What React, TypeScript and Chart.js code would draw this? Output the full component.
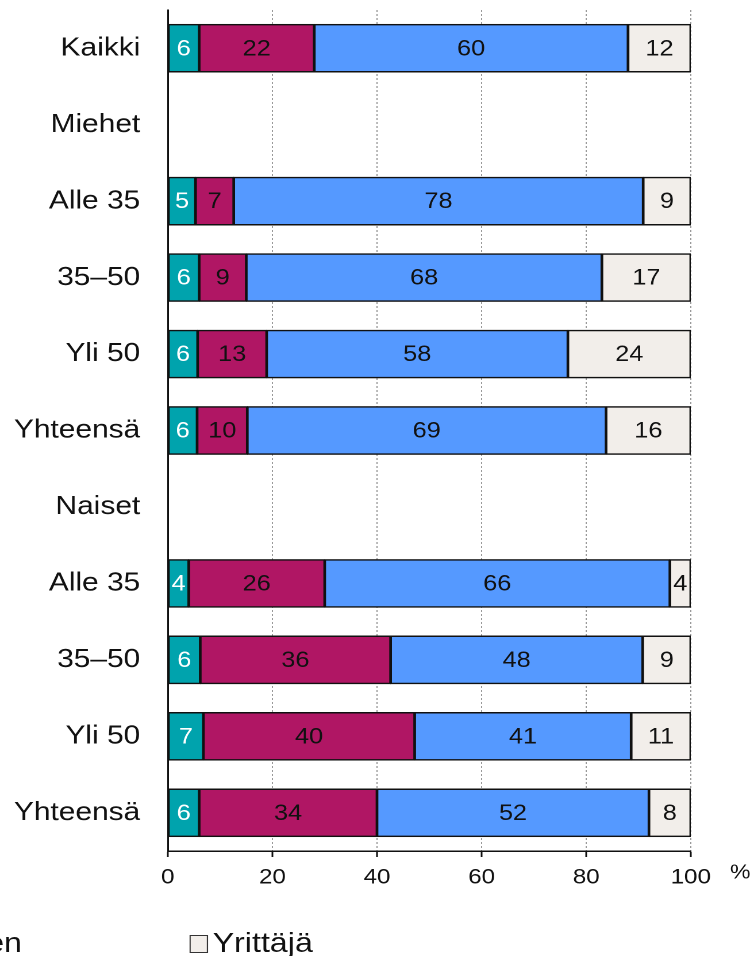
import React, { useEffect, useRef } from "react";
import { Chart, registerables } from "chart.js";

Chart.register(...registerables);

// ---- data ----
const categories = [
  "Kaikki",
  "Miehet",
  "Alle 35",
  "35–50",
  "Yli 50",
  "Yhteensä",
  "Naiset",
  "Alle 35",
  "35–50",
  "Yli 50",
  "Yhteensä",
];

const seriesNames = ["Sarja 1", "Sarja 2", "Sarja 3", "Yrittäjä"];

const series1 = [6, null, 5.3, 6, 5.7, 5.6, null, 4, 6.2, 6.8, 6];
const series2 = [22, null, 7.3, 9, 13.2, 9.6, null, 26, 36.4, 40.4, 34];
const series3 = [60, null, 78.3, 68, 57.6, 68.6, null, 66, 48.2, 41.4, 52];
const yrittaja = [12, null, 9.1, 17, 23.5, 16.2, null, 4, 9.2, 11.4, 8];

const xTicks = [0, 20, 40, 60, 80, 100];
const unitLabel = "%";
const legendFragment = "en";
const legendLabel = "Yrittäjä";

const colors = ["#00A3AD", "#B01664", "#5599FF", "#F2EEEA"];
const labelColors = ["#FFFFFF", "#111111", "#111111", "#111111"];

const FONT = "'Liberation Sans', Arial, Helvetica, sans-serif";
const LOGICAL_W = 656;
const H = 956;
const SCALE_X = 754 / LOGICAL_W;

const valueLabelPlugin = {
  id: "valueLabels",
  afterDatasetsDraw(chart: any) {
    const ctx = chart.ctx;
    ctx.save();
    ctx.font = `22px ${FONT}`;
    ctx.textAlign = "center";
    ctx.textBaseline = "middle";
    chart.data.datasets.forEach((ds: any, di: number) => {
      const meta = chart.getDatasetMeta(di);
      meta.data.forEach((el: any, i: number) => {
        const v = ds.data[i];
        if (v === null || v === undefined) return;
        const props = el.getProps(["x", "y", "base"], true);
        ctx.fillStyle = labelColors[di];
        ctx.fillText(String(Math.round(v)), (props.x + props.base) / 2, props.y + 1);
      });
    });
    // unit label at the right end of the x axis
    const xs = chart.scales.x;
    ctx.font = `20px ${FONT}`;
    ctx.fillStyle = "#111111";
    ctx.textAlign = "center";
    ctx.fillText(unitLabel, 644, xs.top + 22);
    ctx.restore();
  },
};

export default function App() {
  const canvasRef = useRef<HTMLCanvasElement | null>(null);

  useEffect(() => {
    if (!canvasRef.current) return;
    const data = [series1, series2, series3, yrittaja];
    const chart = new Chart(canvasRef.current, {
      type: "bar",
      data: {
        labels: categories,
        datasets: data.map((d, i) => ({
          label: seriesNames[i],
          data: d,
          backgroundColor: colors[i],
          borderColor: "#111111",
          borderWidth: 1.5,
          borderSkipped: false,
          barThickness: 48,
        })),
      },
      options: {
        indexAxis: "y",
        animation: false,
        responsive: true,
        maintainAspectRatio: false,
        devicePixelRatio: 2,
        layout: { padding: { top: 10, right: 55, left: 0, bottom: 0 } },
        plugins: {
          legend: { display: false },
          tooltip: { enabled: false },
        },
        scales: {
          x: {
            stacked: true,
            min: 0,
            max: 100,
            afterBuildTicks: (scale: any) => {
              scale.ticks = xTicks.map((v) => ({ value: v }));
            },
            afterFit: (scale: any) => {
              scale.height = 105;
            },
            ticks: {
              font: { family: FONT, size: 21 },
              color: "#111111",
              padding: 8,
              maxRotation: 0,
            },
            grid: {
              color: (c: any) => (c.tick && c.tick.value === 0 ? "rgba(0,0,0,0)" : "#9a9a9a"),
              lineWidth: 1,
              drawTicks: true,
              tickLength: 6,
              tickColor: "#111111",
              tickWidth: 1.5,
            },
            border: { display: true, color: "#111111", width: 1.5, dash: [2, 2] },
          },
          y: {
            stacked: true,
            afterFit: (scale: any) => {
              scale.width = 146;
              scale.paddingTop = 0;
              scale.paddingBottom = 0;
            },
            ticks: {
              font: { family: FONT, size: 26 },
              color: "#111111",
              padding: 24,
            },
            grid: { display: false, drawTicks: false },
            border: { display: true, color: "#111111", width: 1.5 },
          },
        },
      },
      plugins: [valueLabelPlugin],
    } as any);
    return () => chart.destroy();
  }, []);

  return (
    <div
      style={{
        position: "absolute",
        left: 0,
        top: 0,
        width: 754,
        height: H,
        overflow: "hidden",
        background: "#ffffff",
      }}
    >
      <div
        style={{
          position: "absolute",
          left: 0,
          top: 0,
          width: LOGICAL_W,
          height: H,
          transform: `scaleX(${SCALE_X})`,
          transformOrigin: "0 0",
        }}
      >
        <div style={{ position: "absolute", left: 0, top: 0, width: LOGICAL_W, height: H }}>
          <canvas ref={canvasRef} />
        </div>
        <div
          style={{
            position: "absolute",
            left: -12,
            top: 929,
            fontFamily: FONT,
            fontSize: 28,
            lineHeight: "28px",
            color: "#111111",
            whiteSpace: "nowrap",
          }}
        >
          {legendFragment}
        </div>
        <div
          style={{
            position: "absolute",
            left: 165,
            top: 935,
            width: 14,
            height: 16,
            background: colors[3],
            border: "1px solid #333333",
          }}
        />
        <div
          style={{
            position: "absolute",
            left: 185,
            top: 929,
            fontFamily: FONT,
            fontSize: 28,
            lineHeight: "28px",
            color: "#111111",
            whiteSpace: "nowrap",
          }}
        >
          {legendLabel}
        </div>
      </div>
    </div>
  );
}
